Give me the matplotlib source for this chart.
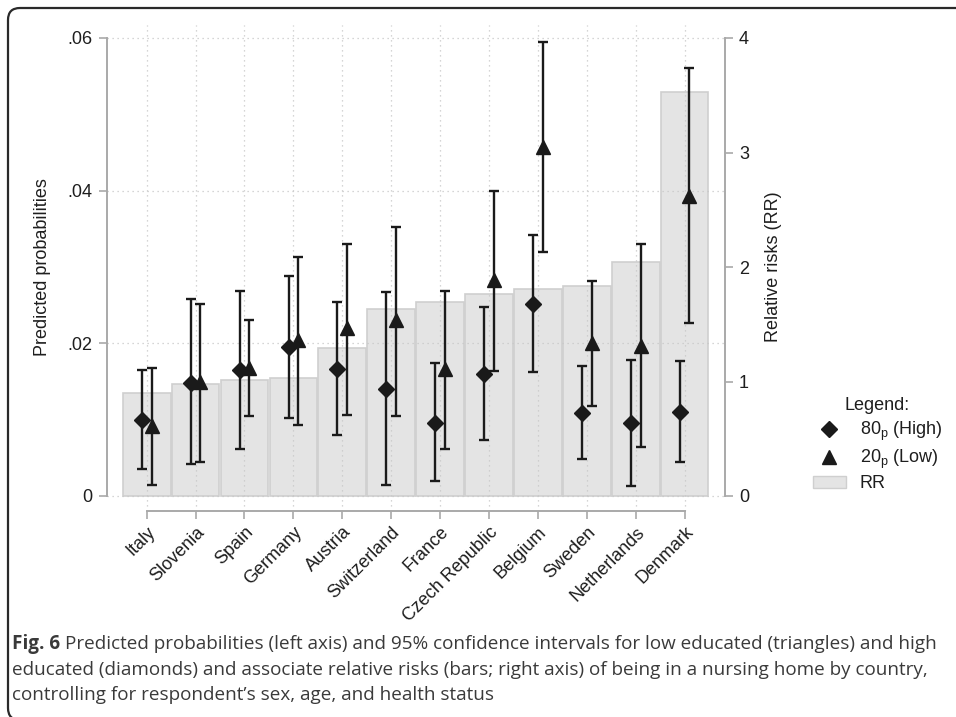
import matplotlib
matplotlib.use("Agg")
import matplotlib.pyplot as plt
import numpy as np
from matplotlib.lines import Line2D
from matplotlib.patches import Patch, FancyBboxPatch
from matplotlib.transforms import IdentityTransform

plt.rcParams['font.family'] = ['Liberation Sans', 'DejaVu Sans']
plt.rcParams['mathtext.fontset'] = 'custom'
plt.rcParams['mathtext.rm'] = 'Liberation Sans'
plt.rcParams['mathtext.it'] = 'Liberation Sans:italic'

countries = ["Italy", "Slovenia", "Spain", "Germany", "Austria", "Switzerland",
             "France", "Czech Republic", "Belgium", "Sweden", "Netherlands", "Denmark"]

# High educated (80p) predicted probabilities and 95% CI
high = [0.0099, 0.0148, 0.0165, 0.0195, 0.0166, 0.0140, 0.0096, 0.0160, 0.0252, 0.0109, 0.0096, 0.0110]
high_lo = [0.0035, 0.0042, 0.0062, 0.0102, 0.0080, 0.0014, 0.0020, 0.0073, 0.0162, 0.0048, 0.0013, 0.0045]
high_hi = [0.0165, 0.0258, 0.0269, 0.0288, 0.0254, 0.0267, 0.0174, 0.0248, 0.0342, 0.0170, 0.0178, 0.0177]

# Low educated (20p) predicted probabilities and 95% CI
low = [0.0092, 0.0149, 0.0168, 0.0204, 0.0220, 0.0231, 0.0166, 0.0283, 0.0457, 0.0200, 0.0197, 0.0393]
low_lo = [0.0014, 0.0044, 0.0105, 0.0093, 0.0106, 0.0105, 0.0062, 0.0164, 0.0320, 0.0118, 0.0064, 0.0227]
low_hi = [0.0168, 0.0252, 0.0231, 0.0313, 0.0330, 0.0352, 0.0269, 0.0400, 0.0595, 0.0282, 0.0330, 0.0561]

# Relative risks (right axis)
rr = [0.90, 0.98, 1.01, 1.03, 1.29, 1.63, 1.69, 1.76, 1.81, 1.83, 2.04, 3.53]

left_ticks = [0, 0.02, 0.04, 0.06]
left_ticklabels = ["0", ".02", ".04", ".06"]
right_ticks = [0, 1, 2, 3, 4]

W, H = 956, 717
fig = plt.figure(figsize=(W / 100, H / 100), dpi=100)
fig.patch.set_facecolor('white')

ax_l, ax_r, ax_t, ax_b = 106.7, 725.0, 25.0, 511.0
ax = fig.add_axes([ax_l / W, 1 - ax_b / H, (ax_r - ax_l) / W, (ax_b - ax_t) / H])
ax2 = ax.twinx()

x = np.arange(len(countries))
spine_col = '#a9a9a9'
text_col = '#1e1e1e'
mark_col = '#1a1a1a'

# bars on right axis
ax2.bar(x, rr, width=0.975, color='#e4e4e4', edgecolor='#cfcfcf', linewidth=1.2, zorder=1)

ax.set_zorder(ax2.get_zorder() + 1)
ax.patch.set_visible(False)

high = np.array(high); low = np.array(low)
ax.errorbar(x - 0.1, high, yerr=[high - np.array(high_lo), np.array(high_hi) - high],
            fmt='D', color=mark_col, ms=8.5, capsize=3.6, elinewidth=1.7, capthick=1.7, zorder=3)
ax.errorbar(x + 0.1, low, yerr=[low - np.array(low_lo), np.array(low_hi) - low],
            fmt='^', color=mark_col, ms=10.5, capsize=3.6, elinewidth=1.7, capthick=1.7, zorder=3)

# scales: 0.06 <-> 4 RR
px_per = (496 - 38) / 0.06
ylo = -(ax_b - 496) / px_per
yhi = 0.06 + (38 - ax_t) / px_per
ax.set_ylim(ylo, yhi)
ax2.set_ylim(ylo / 0.06 * 4, yhi / 0.06 * 4)
step = 48.9
ax.set_xlim(-(146.7 - ax_l) / step, 11 + (ax_r - (146.7 + 11 * step)) / step)

ax.set_yticks(left_ticks)
ax.set_yticklabels(left_ticklabels)
ax2.set_yticks(right_ticks)
ax.set_xticks(x)
ax.set_xticklabels(countries, rotation=45, ha='right', va='top', rotation_mode='anchor')

ax.grid(True, ls=(0, (1, 3)), color='#c8c8c8', lw=0.9)
ax.set_axisbelow(True)

for s in ['top', 'right']:
    ax.spines[s].set_visible(False)
for s in ['top', 'left', 'bottom']:
    ax2.spines[s].set_visible(False)
ax.spines['left'].set_bounds(0, 0.06)
ax.spines['bottom'].set_bounds(0, 11)
ax2.spines['right'].set_bounds(0, 4)
for sp in [ax.spines['left'], ax.spines['bottom'], ax2.spines['right']]:
    sp.set_color(spine_col)
    sp.set_linewidth(1.4)

ax.tick_params(axis='y', length=6, width=1.2, color=spine_col, labelsize=13, labelcolor=text_col, pad=4)
ax.tick_params(axis='x', length=6, width=1.2, color=spine_col, labelsize=13, labelcolor=text_col, pad=3)
ax2.tick_params(axis='y', length=6, width=1.2, color=spine_col, labelsize=13, labelcolor=text_col, pad=4)

fig.text(43 / W, 1 - 267 / H, "Predicted probabilities", rotation=90, ha='center', va='center',
         fontsize=13, color=text_col)
fig.text(773 / W, 1 - 267 / H, "Relative risks (RR)", rotation=90, ha='center', va='center',
         fontsize=13, color=text_col)

handles = [Line2D([], [], marker='D', color=mark_col, ls='none', ms=8.5),
           Line2D([], [], marker='^', color=mark_col, ls='none', ms=10.5),
           Patch(facecolor='#e4e4e4', edgecolor='#cfcfcf')]
labels = [r'80$_\mathrm{p}$ (High)', r'20$_\mathrm{p}$ (Low)', 'RR']
fig.text(877 / W, 1 - 405 / H, "Legend:", ha='center', va='center', fontsize=13, color=text_col)
leg = fig.legend(handles, labels, loc='upper left', bbox_to_anchor=(813 / W, 1 - 420 / H),
                 frameon=False, fontsize=13,
                 handlelength=1.8, handletextpad=0.8, labelspacing=0.25, borderpad=0, borderaxespad=0)
for t in leg.get_texts():
    t.set_color(text_col)

# outer rounded frame
frame = FancyBboxPatch((8, -3), 1100, 712, boxstyle='round,pad=0,rounding_size=12',
                       transform=IdentityTransform(), facecolor='none', edgecolor='#2a2a2a', lw=1.6)
fig.add_artist(frame)

# caption
cap_font = ['Open Sans', 'DejaVu Sans']
cap_col = '#3a3a3a'
cap_size = 13.6
y1, y2, y3 = 1 - 644 / H, 1 - 670 / H, 1 - 695 / H
t0 = fig.text(12 / W, y1, "Fig. 6", fontsize=cap_size, fontweight='bold', family=cap_font,
              color=cap_col, va='center')
fig.canvas.draw()
bb = t0.get_window_extent()
fig.text((bb.x1 + 5) / W, y1, "Predicted probabilities (left axis) and 95% confidence intervals for low educated (triangles) and high",
         fontsize=cap_size, family=cap_font, color=cap_col, va='center')
fig.text(12 / W, y2, "educated (diamonds) and associate relative risks (bars; right axis) of being in a nursing home by country,",
         fontsize=cap_size, family=cap_font, color=cap_col, va='center')
fig.text(12 / W, y3, "controlling for respondent\u2019s sex, age, and health status",
         fontsize=cap_size, family=cap_font, color=cap_col, va='center')

fig.savefig("out.png", dpi=100, facecolor='white')
